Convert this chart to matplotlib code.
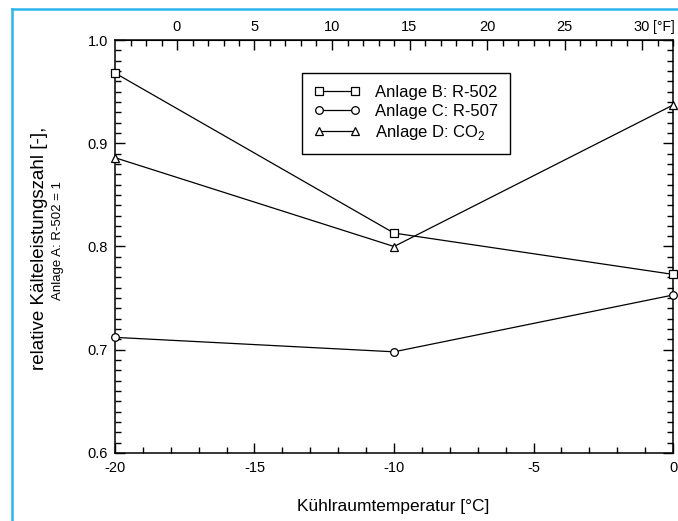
import numpy as np
import matplotlib
matplotlib.use('Agg')
import matplotlib.pyplot as plt
from matplotlib.lines import Line2D
from matplotlib.ticker import MultipleLocator, FixedLocator

plt.rcParams['font.family'] = ['Liberation Sans', 'DejaVu Sans']
plt.rcParams['mathtext.fontset'] = 'custom'
plt.rcParams['mathtext.rm'] = 'Liberation Sans'
plt.rcParams['axes.unicode_minus'] = False

# Kühlraumtemperatur in °C
temp_c = [-20, -10, 0]
# relative Kälteleistungszahl (Anlage A: R-502 = 1)
anlage_b = [0.968, 0.813, 0.773]
anlage_c = [0.712, 0.698, 0.753]
anlage_d = [0.886, 0.800, 0.937]
labels = ['Anlage B: R-502', 'Anlage C: R-507', r'Anlage D: CO$_\mathregular{2}$']
markers = ['s', 'o', '^']
fahrenheit_ticks = [0, 5, 10, 15, 20, 25, 30]

fig = plt.figure(figsize=(6.78, 5.21), dpi=100)
ax = fig.add_axes([115/678, 1-453/521, 558/678, 413/521])

for y, m, lab in zip([anlage_b, anlage_c, anlage_d], markers, labels):
    ax.plot(temp_c, y, color='black', lw=0.9, marker=m, ms=5.5, mfc='white',
            mec='black', mew=0.9, label=lab, clip_on=False, zorder=3)

ax.set_xlim(-20, 0)
ax.set_ylim(0.6, 1.0)
ax.xaxis.set_major_locator(MultipleLocator(5))
ax.xaxis.set_minor_locator(MultipleLocator(1))
ax.yaxis.set_major_locator(MultipleLocator(0.1))
ax.yaxis.set_minor_locator(MultipleLocator(0.01))
ax.yaxis.set_major_formatter(matplotlib.ticker.FormatStrFormatter('%.1f'))
ax.tick_params(which='both', direction='in', top=False, right=True, width=1)
ax.tick_params(which='major', length=7, labelsize=10.5)
ax.tick_params(which='minor', length=4)
ax.tick_params(axis='x', which='major', pad=6)
ax.tick_params(axis='y', which='major', pad=5)
for s in ax.spines.values():
    s.set_linewidth(1.1)

# obere Achse in °F
sec = ax.secondary_xaxis('top', functions=(lambda c: c*9/5 + 32, lambda f: (f - 32)*5/9))
sec.xaxis.set_major_locator(FixedLocator(fahrenheit_ticks))
sec.xaxis.set_minor_locator(FixedLocator(range(-3, 33)))
sec.tick_params(which='both', direction='in', width=1)
sec.tick_params(which='major', length=7, labelsize=10.5, pad=4)
sec.tick_params(which='minor', length=4)
ax.annotate('[°F]', xy=(1, 1), xycoords='axes fraction', xytext=(1.5, 4.5),
            textcoords='offset points', ha='right', va='bottom', fontsize=10)

leg = ax.legend(loc='upper left', bbox_to_anchor=(0.335, 0.92), borderaxespad=0,
                fontsize=12, numpoints=2, handlelength=2.8, handletextpad=0.9,
                labelspacing=0.25, borderpad=0.7, fancybox=False, framealpha=1,
                edgecolor='black')
leg.get_frame().set_linewidth(1.0)

fig.text(40/678, 1-248/521, 'relative Kälteleistungszahl [-],', rotation=90,
         ha='center', va='center', fontsize=13.5)
fig.text(58/678, 1-240/521, 'Anlage A: R-502 = 1', rotation=90,
         ha='center', va='center', fontsize=9.5)
fig.text(393/678, 1-506/521, 'Kühlraumtemperatur [°C]', ha='center', va='center',
         fontsize=12.5)

# blauer Rahmen
blue = '#2bb7ec'
fig.add_artist(Line2D([11.5/678, 1], [1-8.5/521, 1-8.5/521], color=blue, lw=1.8,
                      transform=fig.transFigure))
fig.add_artist(Line2D([11.5/678, 11.5/678], [0, 1-8.5/521], color=blue, lw=1.8,
                      transform=fig.transFigure))

fig.savefig('out.png', dpi=100)
